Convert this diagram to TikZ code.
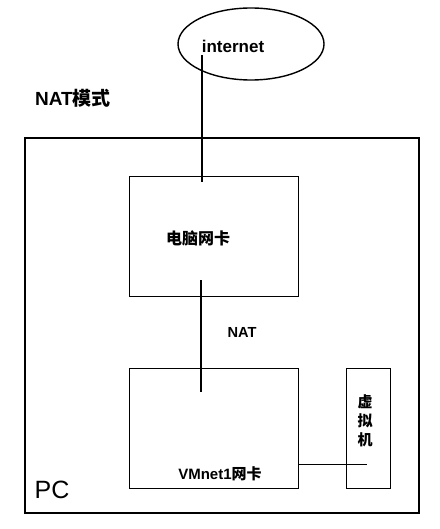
\documentclass[tikz,border=0pt]{standalone}
\usepackage{fontspec}
\setmainfont{Liberation Sans}
\newfontfamily\cjk{Noto Sans CJK SC}
\usetikzlibrary{shapes.geometric}
\begin{document}
\begin{tikzpicture}[x=1pt,y=-1pt,
    box/.style={draw,line width=1.4pt,inner sep=0pt,anchor=north west},
    wire/.style={line width=1.2pt},
    lbl/.style={font=\bfseries,inner sep=0pt}]
    \useasboundingbox (0,0) rectangle (439,529);

    % Frames
    \node[box,line width=1.6pt,minimum width=394pt,minimum height=375pt] (pc) at (24,137) {};
    \node[box,minimum width=169pt,minimum height=120pt] (nic) at (129,176) {};
    \node[box,minimum width=169pt,minimum height=120pt] (vmnet) at (129,368) {};
    \node[box,minimum width=44pt,minimum height=120pt] (vm) at (346,368) {};
    \node[draw,ellipse,line width=1.4pt,minimum width=146pt,minimum height=72pt] (inet) at (251,44) {};

    % Labels
    \node[lbl,font=\fontsize{17}{20}\selectfont\bfseries] (inettext) at (233,46) {internet};
    \node[lbl,font=\fontsize{19}{22}\selectfont\bfseries] (mode) at (73,98) {NAT{\cjk 模式}};
    \node[lbl,font=\fontsize{16}{19}\selectfont\bfseries\cjk] (nictext) at (198,238) {电脑网卡};
    \node[lbl,font=\fontsize{14.6}{17}\selectfont\bfseries] (nat) at (242,332) {NAT};
    \node[lbl,font=\fontsize{15}{18}\selectfont\bfseries] (vmnettext) at (220,474) {VMnet1{\cjk 网卡}};
    \node[lbl,font=\fontsize{15}{19}\selectfont\bfseries\cjk,align=center] (vmtext) at (365,421) {虚\\拟\\机};
    \node[inner sep=0pt,font=\fontsize{25}{28}\selectfont] (pctext) at (52,490) {PC};

    % Wires
    \coordinate (inetend) at (202,55);
    \coordinate (nicup) at (202,182);
    \coordinate (nicdown) at (201,280);
    \coordinate (vmnetup) at (201,392);
    \coordinate (vmnetside) at (298,464);
    \coordinate (vmend) at (367,464);
    \draw[wire] (inetend) -- (nicup);
    \draw[wire] (nicdown) -- (vmnetup);
    \draw[line width=1pt] (vmnetside) -- (vmend);
\end{tikzpicture}
\end{document}
